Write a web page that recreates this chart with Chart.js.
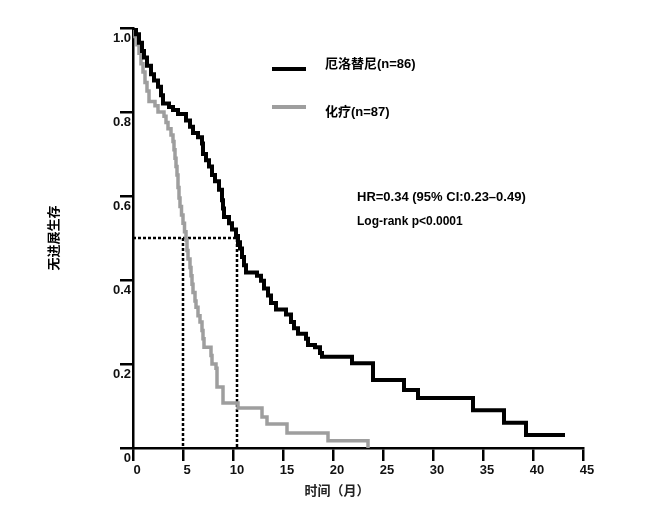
<!DOCTYPE html>
<html>
<head>
<meta charset="utf-8">
<script src="https://cdn.jsdelivr.net/npm/chart.js@4/dist/chart.umd.min.js"></script>
<style>
  html, body { margin: 0; padding: 0; background: #fff; }
  #wrap { width: 653px; height: 518px; position: relative; }
</style>
</head>
<body>
<div id="wrap"><canvas id="km"></canvas></div>
<script>
// 厄洛替尼 arm: time of each drop (months) and survival after it
const erlotinibTime = [0, 0.3, 0.6, 0.9, 1.1, 1.4, 1.8, 2.1, 2.5, 2.8, 3.0, 3.6, 4.0, 4.5, 5.3, 5.7, 6.0, 6.5, 6.9, 7.0,
  7.3, 7.6, 7.9, 8.2, 8.6, 8.9, 9.0, 9.1, 9.6, 9.9, 10.3, 10.5, 10.7, 10.9, 11.1, 11.3, 12.4, 12.8, 13.1, 13.5,
  13.8, 14.3, 15.3, 15.8, 16.1, 16.5, 17.3, 17.5, 18.2, 18.7, 18.9, 21.9, 24.0, 27.1, 28.5, 34.0, 37.1, 39.3, 43.2];
const erlotinibSurv = [1.0, 0.985, 0.965, 0.945, 0.93, 0.91, 0.89, 0.875, 0.86, 0.84, 0.82, 0.812, 0.805, 0.795, 0.78, 0.765, 0.75, 0.74, 0.725, 0.70,
  0.685, 0.67, 0.65, 0.635, 0.615, 0.59, 0.57, 0.55, 0.535, 0.52, 0.505, 0.49, 0.475, 0.455, 0.435, 0.418, 0.41, 0.398, 0.38, 0.363,
  0.345, 0.33, 0.318, 0.30, 0.285, 0.272, 0.26, 0.245, 0.24, 0.226, 0.217, 0.202, 0.162, 0.138, 0.119, 0.09, 0.06, 0.031, 0.031];

// 化疗 arm
const chemoTime = [0, 0.2, 0.4, 0.6, 0.8, 1.0, 1.2, 1.4, 1.6, 2.2, 2.5, 3.1, 3.3, 3.5, 3.8, 4.0, 4.1, 4.2, 4.3, 4.4,
  4.5, 4.6, 4.7, 4.85, 5.0, 5.15, 5.3, 5.4, 5.5, 5.7, 5.8, 5.9, 6.0, 6.2, 6.3, 6.5, 6.7, 6.9, 7.0, 7.1,
  7.8, 7.9, 8.3, 8.4, 9.0, 10.5, 12.9, 13.4, 15.4, 19.5, 23.5];
const chemoSurv = [1.0, 0.98, 0.96, 0.94, 0.915, 0.895, 0.87, 0.85, 0.825, 0.815, 0.80, 0.79, 0.775, 0.76, 0.745, 0.73, 0.71, 0.69, 0.67, 0.65,
  0.62, 0.595, 0.575, 0.555, 0.535, 0.515, 0.495, 0.47, 0.45, 0.43, 0.41, 0.39, 0.37, 0.35, 0.335, 0.315, 0.30, 0.28, 0.26, 0.24,
  0.22, 0.20, 0.19, 0.145, 0.107, 0.095, 0.074, 0.057, 0.036, 0.017, 0];

const medianErlotinib = 10.4;
const medianChemo = 5.0;
const medianLevel = 0.5;

const xTicks = [0, 5, 10, 15, 20, 25, 30, 35, 40, 45];
const yTickLabels = ['0', '0.2', '0.4', '0.6', '0.8', '1.0'];

const seriesNames = ['厄洛替尼(n=86)', '化疗(n=87)'];
const statLines = ['HR=0.34 (95% CI:0.23–0.49)', 'Log-rank p<0.0001'];
const xTitle = '时间（月）';
const yTitle = '无进展生存';

function toPoints(ts, ss) {
  return ts.map((t, i) => ({ x: t, y: ss[i] }));
}

const latin = '"Liberation Sans", Arial, "Noto Sans CJK SC", sans-serif';

// legend + stats text + x title
const textPlugin = {
  id: 'kmText',
  afterDraw(chart) {
    const ctx = chart.ctx;
    ctx.save();
    ctx.lineCap = 'butt';
    ctx.lineWidth = 4;
    ctx.strokeStyle = '#000';
    ctx.beginPath(); ctx.moveTo(272, 69); ctx.lineTo(306, 69); ctx.stroke();
    ctx.strokeStyle = '#9e9e9e';
    ctx.beginPath(); ctx.moveTo(272, 107); ctx.lineTo(306, 107); ctx.stroke();

    ctx.fillStyle = '#000';
    ctx.textBaseline = 'middle';
    ctx.textAlign = 'left';
    ctx.font = 'bold 13px ' + latin;
    ctx.fillText(seriesNames[0], 325, 64);
    ctx.fillText(seriesNames[1], 325, 112);
    ctx.fillText(statLines[0], 357, 197);
    ctx.font = 'bold 12px ' + latin;
    ctx.fillText(statLines[1], 357, 222);

    ctx.textAlign = 'center';
    ctx.font = 'bold 13px ' + latin;
    ctx.fillStyle = '#222';
    ctx.fillText(xTitle, 337, 491);
    ctx.restore();
  }
};

new Chart(document.getElementById('km'), {
  type: 'line',
  data: {
    datasets: [{
      label: seriesNames[0],
      data: toPoints(erlotinibTime, erlotinibSurv),
      borderColor: '#000',
      borderWidth: 4,
      stepped: 'before',
      pointRadius: 0,
      fill: false
    }, {
      label: seriesNames[1],
      data: toPoints(chemoTime, chemoSurv),
      borderColor: '#9e9e9e',
      borderWidth: 3.5,
      stepped: 'before',
      pointRadius: 0,
      fill: false
    }, {
      label: 'median1',
      data: [{ x: 0, y: medianLevel }, { x: medianErlotinib, y: medianLevel }, { x: medianErlotinib, y: 0 }],
      borderColor: '#000',
      borderWidth: 2.5,
      borderDash: [3, 2],
      pointRadius: 0,
      fill: false
    }, {
      label: 'median2',
      data: [{ x: medianChemo, y: medianLevel }, { x: medianChemo, y: 0 }],
      borderColor: '#000',
      borderWidth: 2.5,
      borderDash: [3, 2],
      pointRadius: 0,
      fill: false
    }]
  },
  options: {
    responsive: true,
    maintainAspectRatio: false,
    animation: false,
    layout: { padding: { top: 28, right: 70, left: 0, bottom: 0 } },
    plugins: { legend: { display: false }, tooltip: { enabled: false } },
    elements: { line: { borderJoinStyle: 'miter', borderCapStyle: 'butt' } },
    scales: {
      x: {
        type: 'linear',
        min: 0, max: 45,
        afterFit: s => { s.height = 70; },
        afterBuildTicks: s => { s.ticks = xTicks.map(v => ({ value: v })); },
        border: { display: true, color: '#000', width: 2.5 },
        grid: { drawOnChartArea: false, drawTicks: true, tickLength: 13, color: '#000', lineWidth: 2.5 },
        ticks: {
          color: '#111',
          padding: 2,
          labelOffset: 4,
          maxRotation: 0,
          font: { family: latin, size: 13, weight: 'bold' },
          callback: v => String(v)
        }
      },
      y: {
        type: 'linear',
        min: 0, max: 1,
        afterFit: s => { s.width = 133; },
        border: { display: true, color: '#000', width: 2.5 },
        grid: { drawOnChartArea: false, drawTicks: true, tickLength: 13, color: '#000', lineWidth: 2.5 },
        ticks: {
          stepSize: 0.2,
          color: '#111',
          padding: -11,
          labelOffset: 10,
          font: { family: latin, size: 13, weight: 'bold' },
          callback: (v, i) => yTickLabels[i]
        },
        title: {
          display: true,
          text: yTitle,
          color: '#000',
          padding: { top: 47, bottom: 0 },
          font: { family: latin, size: 13, weight: 'bold' }
        }
      }
    }
  },
  plugins: [textPlugin]
});
</script>
</body>
</html>
